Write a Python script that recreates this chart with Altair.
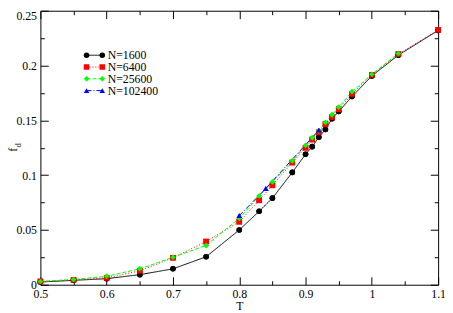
import altair as alt
import pandas as pd

FONT = "Liberation Serif"

series = ["N=1600", "N=6400", "N=25600", "N=102400"]
colors = ["#000000", "#ff0000", "#00ff00", "#0000ff"]
shapes = ["circle", "square", "diamond", "triangle-up"]
dashes = [[1, 0], [1, 2], [4, 2], [5, 2, 1, 2]]

T_1600 = [0.5, 0.55, 0.6, 0.65, 0.7, 0.75, 0.8, 0.83, 0.85, 0.88, 0.9, 0.91, 0.92,
          0.93, 0.94, 0.95, 0.97, 1.0, 1.04, 1.1]
f_1600 = [0.0025, 0.004, 0.0055, 0.0092, 0.0145, 0.0255, 0.050, 0.067, 0.079, 0.1025,
          0.119, 0.126, 0.1345, 0.1417, 0.1515, 0.158, 0.1717, 0.1905, 0.2095, 0.232]

T_6400 = [0.5, 0.55, 0.6, 0.65, 0.7, 0.75, 0.8, 0.83, 0.85, 0.88, 0.9, 0.91, 0.92,
          0.93, 0.94, 0.95, 0.97, 1.0, 1.04, 1.1]
f_6400 = [0.003, 0.0045, 0.0062, 0.0127, 0.0246, 0.0394, 0.0575, 0.077, 0.0907, 0.1115,
          0.125, 0.1325, 0.139, 0.1465, 0.153, 0.160, 0.174, 0.1915, 0.2105, 0.2325]

T_25600 = [0.5, 0.55, 0.6, 0.65, 0.7, 0.75, 0.8, 0.83, 0.85, 0.88, 0.9, 0.91, 0.92,
           0.93, 0.94, 0.95, 0.97, 1.0, 1.04]
f_25600 = [0.003, 0.0048, 0.0077, 0.0145, 0.0250, 0.0359, 0.0605, 0.081, 0.0937, 0.113,
           0.127, 0.134, 0.1405, 0.148, 0.155, 0.162, 0.176, 0.192, 0.211]

T_102400 = [0.8, 0.84, 0.92]
f_102400 = [0.063, 0.0878, 0.141]

x_ticks = [0.5, 0.55, 0.6, 0.65, 0.7, 0.75, 0.8, 0.85, 0.9, 0.95, 1.0, 1.05, 1.1]
y_ticks = [0, 0.025, 0.05, 0.075, 0.1, 0.125, 0.15, 0.175, 0.2, 0.225, 0.25]

rows = []
for name, ts, fs in [(series[0], T_1600, f_1600), (series[1], T_6400, f_6400),
                     (series[2], T_25600, f_25600), (series[3], T_102400, f_102400)]:
    for t, f in zip(ts, fs):
        rows.append({"T": t, "fd": f, "N": name})
df = pd.DataFrame(rows)

xscale = alt.Scale(domain=[0.5, 1.1], nice=False, zero=False)
yscale = alt.Scale(domain=[0, 0.25], nice=False, zero=False)
cscale = alt.Scale(domain=series, range=colors)
sscale = alt.Scale(domain=series, range=shapes)
dscale = alt.Scale(domain=series, range=dashes)

XMAJ = "round(datum.value*20)%2==0"
YMAJ = "round(datum.value*40)%2==0"
x_tick_size = alt.ExprRef(expr=f"{XMAJ} ? -8 : -4")
y_tick_size = alt.ExprRef(expr=f"{YMAJ} ? -8 : -4")

common_axis = dict(grid=False, domainColor="black", domainWidth=1, tickColor="black",
                   tickWidth=1, labelFlush=False, labelOverlap=False)

x_bottom = alt.Axis(
    orient="bottom", values=x_ticks, labelPadding=12, tickSize=x_tick_size,
    labelExpr=f"{XMAJ} ? toString(round(datum.value*10)/10) : ''",
    labelFont=FONT, labelFontSize=12, labelColor="black", labelAngle=0,
    title="T", titleFont=FONT, titleFontSize=12, titleFontWeight="normal",
    titleColor="black", titleY=25, titleBaseline="alphabetic",
    **common_axis)
x_top = alt.Axis(orient="top", values=x_ticks, labels=False, title=None,
                 tickSize=x_tick_size, **common_axis)
y_left = alt.Axis(
    orient="left", values=y_ticks, labelPadding=12, tickSize=y_tick_size,
    labelExpr=f"{YMAJ} ? toString(round(datum.value*100)/100) : ''",
    labelOffset={"condition": {"test": "datum.value > 0.24", "value": 5}, "value": 0},
    labelFont=FONT, labelFontSize=12, labelColor="black", title=None,
    **common_axis)
y_right = alt.Axis(orient="right", values=y_ticks, labels=False, title=None,
                   tickSize=y_tick_size, **common_axis)

LX, LY = 46.5, 39.3
leg_common = dict(title=None, orient="none", padding=0, rowPadding=0, clipHeight=12,
                  labelFont=FONT, labelFontSize=12, labelColor="black")
line_legend = alt.Legend(legendX=LX, legendY=LY, symbolType="stroke", symbolSize=256,
                         symbolStrokeWidth=1, labelOffset=5, **leg_common)
pt_legend_l = alt.Legend(legendX=LX - 5.5, legendY=LY, symbolSize=32, symbolOpacity=1,
                         symbolStrokeWidth=0, labelExpr="''", **leg_common)
pt_legend_r = alt.Legend(legendX=LX + 10.5, legendY=LY, symbolSize=32, symbolOpacity=1,
                         symbolStrokeWidth=0, labelExpr="''", **leg_common)

base = alt.Chart(df)

lines = base.mark_line(strokeWidth=1).encode(
    x=alt.X("T:Q", scale=xscale, axis=x_bottom),
    y=alt.Y("fd:Q", scale=yscale, axis=y_left),
    color=alt.Color("N:N", scale=cscale, legend=line_legend),
    strokeDash=alt.StrokeDash("N:N", scale=dscale, legend=line_legend),
    order=alt.Order("T:Q"),
)

points = base.mark_point(filled=True, size=32, opacity=1).encode(
    x=alt.X("T:Q", scale=xscale, axis=x_top),
    y=alt.Y("fd:Q", scale=yscale, axis=y_right),
    color=alt.Color("N:N", scale=cscale, legend=pt_legend_l),
    shape=alt.Shape("N:N", scale=sscale, legend=pt_legend_l),
)

points_r = base.mark_point(filled=True, size=32, opacity=1).encode(
    x=alt.X("T:Q", scale=xscale, axis=None),
    y=alt.Y("fd:Q", scale=yscale, axis=None),
    color=alt.Color("N:N", scale=cscale, legend=pt_legend_r),
    shape=alt.Shape("N:N", scale=sscale, legend=pt_legend_r),
)

f_title = alt.Chart(pd.DataFrame({"t": ["f"]})).mark_text(
    angle=270, font=FONT, fontSize=12, baseline="alphabetic", align="center", color="#222222"
).encode(x=alt.value(-24), y=alt.value(141.5), text="t:N")

d_title = alt.Chart(pd.DataFrame({"t": ["d"]})).mark_text(
    angle=270, font=FONT, fontSize=9, baseline="alphabetic", align="center", color="#222222"
).encode(x=alt.value(-20), y=alt.value(137), text="t:N")

chart = alt.layer(lines, points, points_r, f_title, d_title).resolve_axis(
    x="independent", y="independent"
).resolve_legend(
    color="independent", shape="independent", strokeDash="independent"
).properties(
    width=405, height=279,
    autosize=alt.AutoSizeParams(type="none"),
    padding={"left": 33, "top": 0, "right": 7, "bottom": 26},
).configure_view(stroke=None)

chart.save("out.html", embed_options={"renderer": "svg", "actions": False})
